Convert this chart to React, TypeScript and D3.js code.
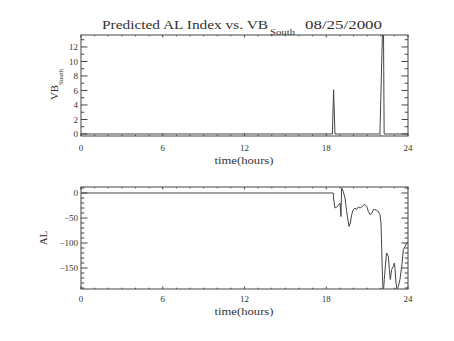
import React from "react";
import * as d3 from "d3";

// VB South (top panel)
const vbHours = [0, 18.45, 18.54, 18.64, 21.94, 22.14, 22.2, 22.25, 24];
const vbValues = [0, 0, 6.1, 0, 0, 15, 15, 0, 0];

// Predicted AL index (bottom panel)
const alHours = [
  0, 18.52, 18.53, 18.64, 18.77, 18.89, 19.01, 19.08, 19.13, 19.25, 19.38, 19.45, 19.55, 19.67,
  19.77, 19.87, 19.99, 20.11, 20.23, 20.35, 20.48, 20.6, 20.72, 20.84, 20.97, 21.09, 21.21,
  21.34, 21.46, 21.58, 21.7, 21.82, 21.94, 22.02, 22.07, 22.14, 22.19, 22.26, 22.36, 22.43,
  22.56, 22.63, 22.7, 22.8, 22.92, 23.0, 23.05, 23.12, 23.19, 23.29, 23.41, 23.54, 23.66,
  23.78, 23.9, 24,
];
const alValues = [
  0, 0, -10, -30, -28, -25, -20, -47, 10, 3, -10, -27, -47, -67,
  -60, -43, -33, -30, -33, -28, -30, -28, -25, -23, -27, -37, -43,
  -41, -33, -33, -35, -37, -43, -60, -113, -180, -200, -173, -140, -120,
  -127, -153, -173, -153, -147, -140, -153, -180, -192, -187, -173, -147, -113,
  -107, -100, -98,
];

const xMajor = [0, 6, 12, 18, 24];
const vbMajor = [0, 2, 4, 6, 8, 10, 12];
const alMajor = [0, -50, -100, -150];

const FONT = "'Liberation Serif', 'DejaVu Serif', serif";
const INK = "#444";
const TXT = "#333";

const x = d3.scaleLinear().domain([0, 24]).range([81, 408]);
const yTop = d3.scaleLinear().domain([-0.28, 13.65]).range([136, 35]);
const yBot = d3.scaleLinear().domain([-192, 12]).range([289, 187]);

type PanelProps = {
  id: string;
  y: d3.ScaleLinear<number, number>;
  hours: number[];
  values: number[];
  majors: number[];
  minors: number[];
  labelY: number;
  titleY: number;
};

function Panel({ id, y, hours, values, majors, minors, labelY, titleY }: PanelProps) {
  const [y0, y1] = y.range();
  const [x0, x1] = x.range();
  const line = d3
    .line<number>()
    .x((_, i) => x(hours[i]))
    .y((v) => y(v));
  const xMinors = d3.range(0, 25, 1);
  return (
    <g>
      <defs>
        <clipPath id={id}>
          <rect x={x0} y={y1} width={x1 - x0} height={y0 - y1} />
        </clipPath>
      </defs>
      <path d={line(values) ?? ""} fill="none" stroke={INK} strokeWidth={1} clipPath={`url(#${id})`} />
      <rect x={x0} y={y1} width={x1 - x0} height={y0 - y1} fill="none" stroke={INK} strokeWidth={1} />
      {xMinors.map((h) => {
        const len = xMajor.includes(h) ? 2.5 : 1.3;
        return (
          <g key={"x" + h} stroke={INK}>
            <line x1={x(h)} x2={x(h)} y1={y0} y2={y0 - len} />
            <line x1={x(h)} x2={x(h)} y1={y1} y2={y1 + len} />
          </g>
        );
      })}
      {minors.map((v) => {
        const len = majors.includes(v) ? 6.5 : 3.3;
        return (
          <g key={"y" + v} stroke={INK}>
            <line x1={x0} x2={x0 + len} y1={y(v)} y2={y(v)} />
            <line x1={x1} x2={x1 - len} y1={y(v)} y2={y(v)} />
          </g>
        );
      })}
      {xMajor.map((h) => (
        <text key={"xl" + h} x={x(h)} y={labelY} fontSize={9} textAnchor="middle" fontFamily={FONT} fill={TXT}>
          {h}
        </text>
      ))}
      {majors.map((v) => (
        <text key={"yl" + v} x={78} y={y(v) + 3.2} fontSize={9} textAnchor="end" fontFamily={FONT} fill={TXT}>
          {String(v).replace("-", "\u2212")}
        </text>
      ))}
      <text x={244} y={titleY} fontSize={10.5} textAnchor="middle" fontFamily={FONT} fill={TXT} textLength={59} lengthAdjust="spacingAndGlyphs">
        time(hours)
      </text>
    </g>
  );
}

export default function App() {
  return (
    <svg width={454} height={341} style={{ position: "absolute", left: 0, top: 0, background: "#fff" }}>
      <rect width={454} height={341} fill="#fff" />
      <text x={102} y={29} fontSize={12.5} fontFamily={FONT} fill={TXT} textLength={166} lengthAdjust="spacingAndGlyphs">
        Predicted AL Index vs. VB
      </text>
      <text x={270} y={35} fontSize={8} fontFamily={FONT} fill={TXT} textLength={25} lengthAdjust="spacingAndGlyphs">
        South
      </text>
      <text x={305} y={29} fontSize={12.5} fontFamily={FONT} fill={TXT} textLength={77} lengthAdjust="spacingAndGlyphs">
        08/25/2000
      </text>

      <g transform="translate(58,100) rotate(-90)">
        <text x={0} y={0} fontSize={11} fontFamily={FONT} fill={TXT} textLength={15} lengthAdjust="spacingAndGlyphs">
          VB
        </text>
        <text x={15} y={5} fontSize={7} fontFamily={FONT} fill={TXT} textLength={16} lengthAdjust="spacingAndGlyphs">
          South
        </text>
      </g>
      <g transform="translate(47,238) rotate(-90)">
        <text x={0} y={0} fontSize={11} fontFamily={FONT} fill={TXT} textAnchor="middle">
          AL
        </text>
      </g>

      <Panel
        id="clipTop"
        y={yTop}
        hours={vbHours}
        values={vbValues}
        majors={vbMajor}
        minors={d3.range(0, 14, 1)}
        labelY={151}
        titleY={163.5}
      />
      <Panel
        id="clipBot"
        y={yBot}
        hours={alHours}
        values={alValues}
        majors={alMajor}
        minors={d3.range(10, -200, -10)}
        labelY={302}
        titleY={315}
      />
    </svg>
  );
}
